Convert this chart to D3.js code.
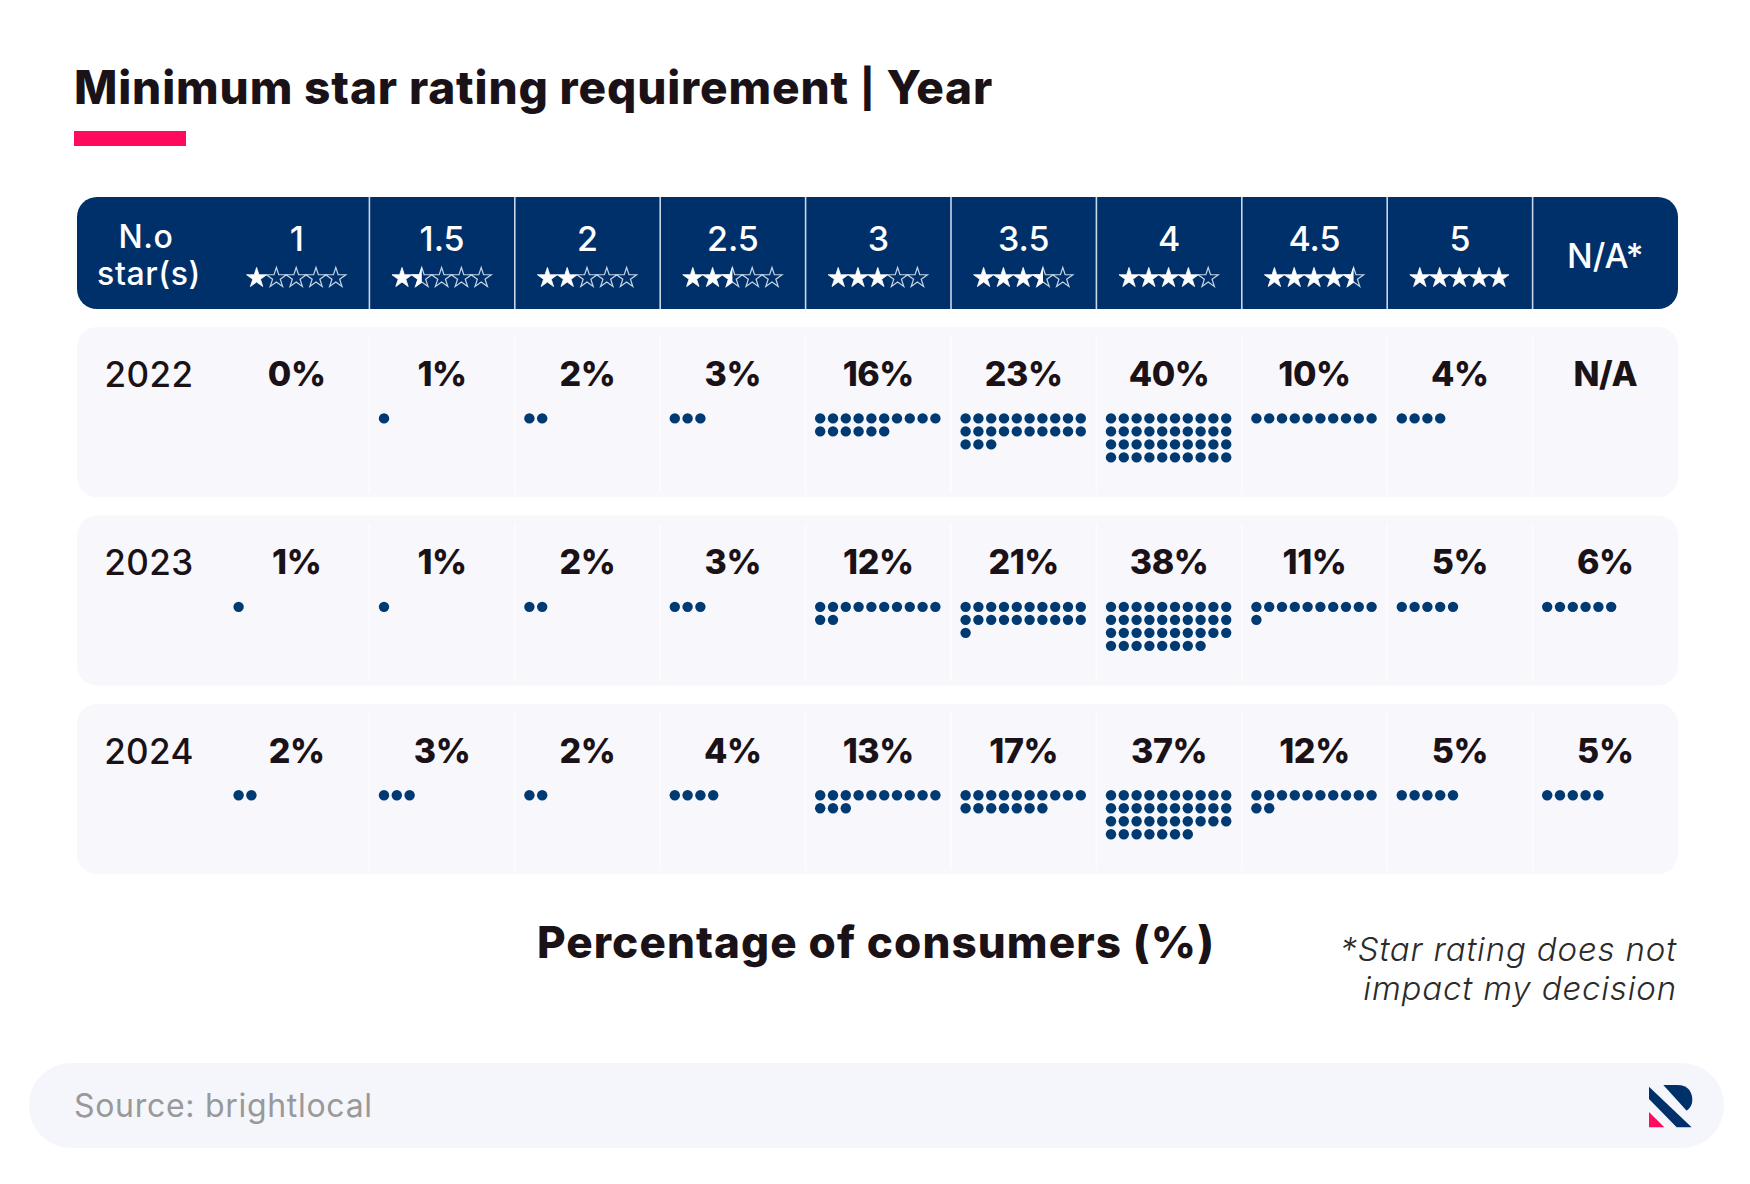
<!DOCTYPE html>
<html>
<head>
<meta charset="utf-8">
<script src="https://cdn.jsdelivr.net/npm/d3@7"></script>
<style>
  html, body { margin: 0; padding: 0; background: #fff; }
  svg { display: block; }
  text { font-family: Inter, "Noto Sans", sans-serif; }
</style>
</head>
<body>
<svg id="chart" width="1750" height="1184"></svg>
<script>
const ratings = ["1", "1.5", "2", "2.5", "3", "3.5", "4", "4.5", "5", "N/A*"];
const starCounts = [1, 1.5, 2, 2.5, 3, 3.5, 4, 4.5, 5, null];
const years = ["2022", "2023", "2024"];
const values2022 = [0, 1, 2, 3, 16, 23, 40, 10, 4, null];
const values2023 = [1, 1, 2, 3, 12, 21, 38, 11, 5, 6];
const values2024 = [2, 3, 2, 4, 13, 17, 37, 12, 5, 5];
const valuesByYear = [values2022, values2023, values2024];

const navy = "#00306a";
const dotBlue = "#003a72";
const ink = "#1a1216";
const rowFill = "#f8f7fc";

const svg = d3.select("#chart");

const x = d3.scaleBand().domain(ratings).range([224, 1678]);
const y = d3.scaleBand().domain(years).range([327, 874]).paddingInner(0.097);

// dots sit in a 10 wide grid inside each column
const dotX = d3.scaleLinear().domain([0, 9]).range([14.6, 129.8]);
const dotY = d3.scaleLinear().domain([0, 3]).range([91.4, 130.4]);
const starX = d3.scaleLinear().domain([0, 4]).range([-39.6, 39.6]);

// title
const title = svg.append("text")
  .attr("x", 74).attr("y", 104)
  .attr("font-size", 46).attr("font-weight", 800)
  .attr("letter-spacing", 0.85)
  .attr("fill", ink);
title.append("tspan").text("Minimum star rating requirement ");
title.append("tspan").attr("font-size", 38).attr("dy", -2).text("|");
title.append("tspan").attr("dy", 2).text(" Year");

svg.append("rect")
  .attr("x", 74).attr("y", 131)
  .attr("width", 112).attr("height", 15)
  .attr("fill", "#ff0a5c");

// header band
svg.append("rect")
  .attr("x", 77).attr("y", 197)
  .attr("width", 1601).attr("height", 112)
  .attr("rx", 20)
  .attr("fill", navy);

svg.append("g").selectAll("line")
  .data(ratings.slice(1))
  .join("line")
  .attr("x1", d => x(d)).attr("x2", d => x(d))
  .attr("y1", 197).attr("y2", 309)
  .attr("stroke", "#c9d8e8").attr("stroke-width", 1.6);

const headText = svg.append("g")
  .attr("fill", "#fff")
  .attr("font-size", 34)
  .attr("font-weight", 500)
  .attr("text-anchor", "middle");

headText.append("text").attr("x", 146).attr("y", 248)
  .attr("font-size", 32).attr("letter-spacing", 0.6).text("N.o");
headText.append("text").attr("x", 149).attr("y", 285)
  .attr("font-size", 32).attr("letter-spacing", 0.6).text("star(s)");

headText.selectAll(".rating")
  .data(ratings)
  .join("text")
  .attr("class", "rating")
  .attr("x", d => x(d) + x.bandwidth() / 2)
  .attr("y", d => d === "N/A*" ? 268 : 251)
  .text(d => d);

// stars under each rating
const starPath = d3.symbol(d3.symbolStar, 125)();

svg.append("defs").append("clipPath")
  .attr("id", "halfStar")
  .append("rect")
  .attr("x", -12).attr("y", -12)
  .attr("width", 12).attr("height", 24);

const starGroups = svg.append("g").selectAll("g")
  .data(ratings.map((r, i) => ({ rating: r, count: starCounts[i] })).filter(d => d.count !== null))
  .join("g")
  .attr("transform", d => `translate(${x(d.rating) + x.bandwidth() / 2 - 0.5},278)`);

starGroups.each(function(d) {
  const g = d3.select(this);
  d3.range(5).forEach(i => {
    const s = g.append("g").attr("transform", `translate(${starX(i)},0)`);
    const fill = Math.max(0, Math.min(1, d.count - i));
    if (fill < 1) {
      s.append("path").attr("d", starPath)
        .attr("fill", "none")
        .attr("stroke", "#c4d4e6").attr("stroke-width", 1.2);
    }
    if (fill > 0) {
      s.append("path").attr("d", starPath)
        .attr("fill", "#fff")
        .attr("stroke", "#fff").attr("stroke-width", 0.8)
        .attr("clip-path", fill < 1 ? "url(#halfStar)" : null);
    }
  });
});

// year rows
const rows = svg.append("g").selectAll("g")
  .data(years.map((year, i) => ({ year, values: valuesByYear[i] })))
  .join("g")
  .attr("transform", d => `translate(0,${y(d.year)})`);

rows.append("rect")
  .attr("x", 77).attr("y", 0)
  .attr("width", 1601).attr("height", y.bandwidth())
  .attr("rx", 20)
  .attr("fill", rowFill);

rows.selectAll(".divider")
  .data(ratings.slice(1))
  .join("line")
  .attr("class", "divider")
  .attr("x1", d => x(d)).attr("x2", d => x(d))
  .attr("y1", 8).attr("y2", y.bandwidth() - 4)
  .attr("stroke", "#fff").attr("stroke-width", 2).attr("stroke-opacity", 0.5);

rows.append("text")
  .attr("x", 149).attr("y", 60)
  .attr("text-anchor", "middle")
  .attr("font-size", 35).attr("font-weight", 500)
  .attr("letter-spacing", 0.4)
  .attr("fill", ink)
  .text(d => d.year);

const cells = rows.selectAll(".cell")
  .data(d => d.values.map((v, i) => ({ rating: ratings[i], value: v })))
  .join("g")
  .attr("class", "cell")
  .attr("transform", d => `translate(${x(d.rating)},0)`);

cells.append("text")
  .attr("x", x.bandwidth() / 2).attr("y", 59)
  .attr("text-anchor", "middle")
  .attr("font-size", 34).attr("font-weight", 800)
  .attr("letter-spacing", -0.4)
  .attr("fill", ink)
  .text(d => d.value === null ? "N/A" : d.value + "%");

cells.selectAll("circle")
  .data(d => d3.range(d.value === null ? 0 : d.value))
  .join("circle")
  .attr("cx", i => dotX(i % 10))
  .attr("cy", i => dotY(Math.floor(i / 10)))
  .attr("r", 5.2)
  .attr("fill", dotBlue);

// axis caption and footnote
svg.append("text")
  .attr("x", 876).attr("y", 958)
  .attr("text-anchor", "middle")
  .attr("font-size", 44).attr("font-weight", 800)
  .attr("letter-spacing", 1.1)
  .attr("fill", ink)
  .text("Percentage of consumers (%)");

const note = svg.append("g")
  .attr("text-anchor", "end")
  .attr("font-size", 33).attr("font-weight", 300)
  .attr("font-style", "italic")
  .attr("letter-spacing", 0.85)
  .attr("fill", "#2b2b2b");
note.append("text").attr("x", 1677).attr("y", 961).text("*Star rating does not");
note.append("text").attr("x", 1677).attr("y", 1000).text("impact my decision");

// source bar
svg.append("rect")
  .attr("x", 29).attr("y", 1063)
  .attr("width", 1695).attr("height", 85)
  .attr("rx", 42)
  .attr("fill", "#f5f6fb");

svg.append("text")
  .attr("x", 74).attr("y", 1117)
  .attr("font-size", 32).attr("font-weight", 400)
  .attr("letter-spacing", 0.7)
  .attr("fill", "#999")
  .text("Source: brightlocal");

// logo, drawn in the 3x crop units
const logo = svg.append("g").attr("transform", "translate(1649,1085) scale(0.3333)");
logo.append("path").attr("d", "M0,5 L0,42 L83,127 L128,127 Z").attr("fill", navy);
logo.append("path").attr("d", "M43,0 L85,0 C118,0 130,22 130,45 C130,58 124,70 113,77 Z").attr("fill", navy);
logo.append("path").attr("d", "M0,81 L46,127 L0,127 Z").attr("fill", "#ff0a5c");
</script>
</body>
</html>
